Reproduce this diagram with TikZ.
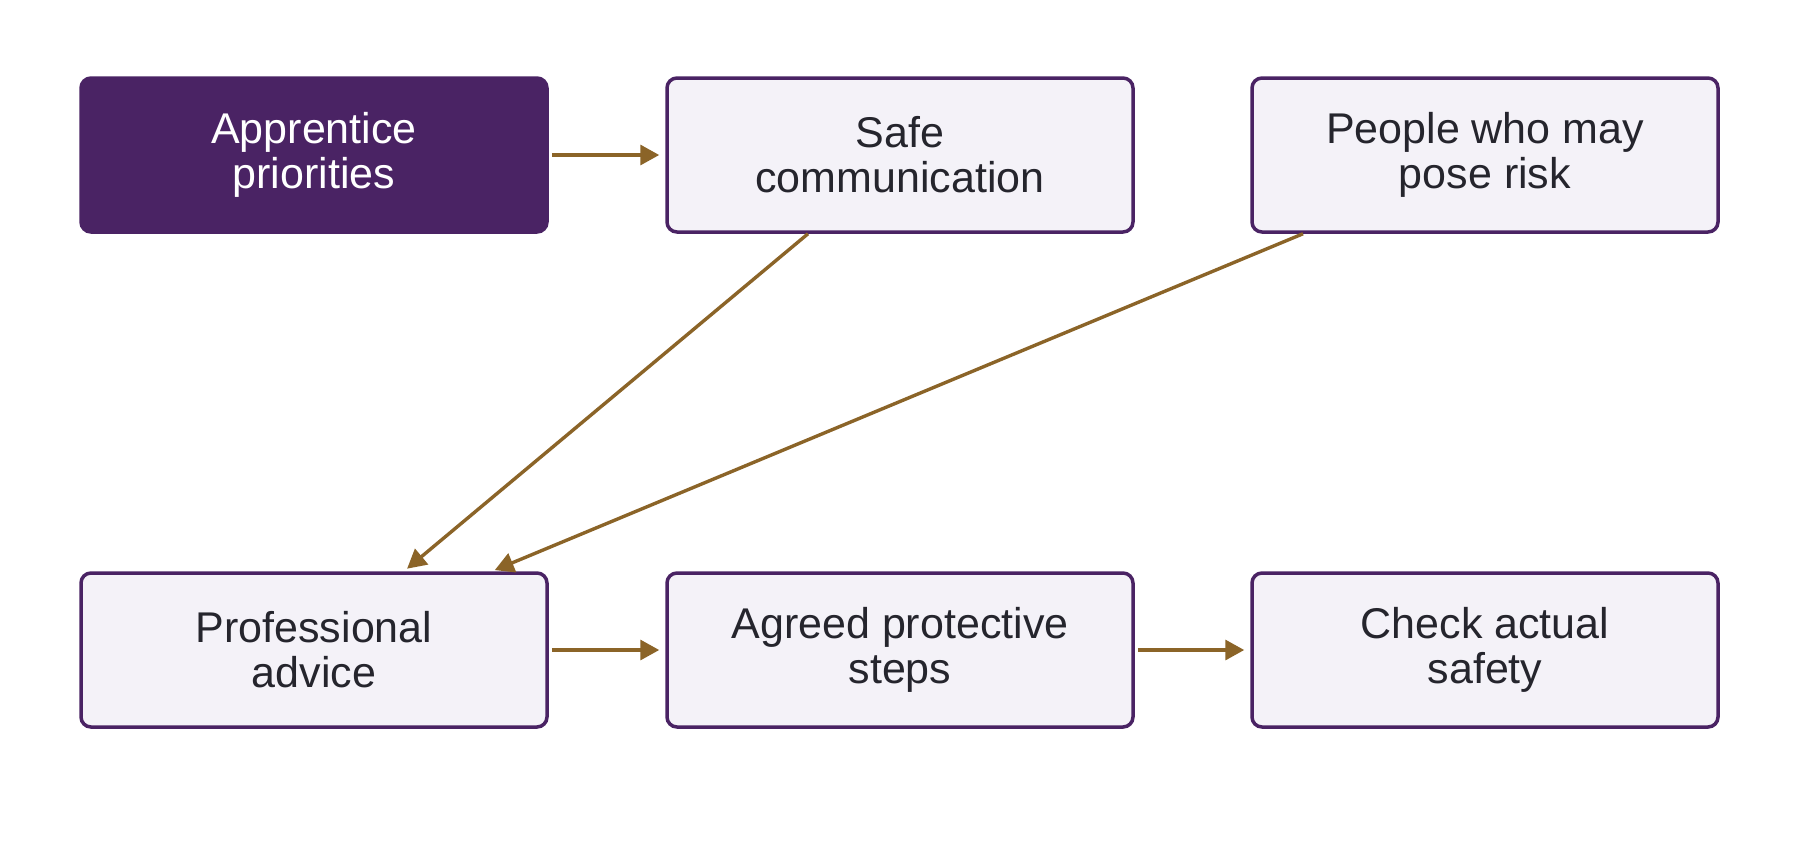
\documentclass[tikz,border=0pt]{standalone}
\usepackage{fontspec}
\setmainfont{Liberation Sans}
\usetikzlibrary{arrows.meta,calc}
\definecolor{darkpurple}{HTML}{4A2364}
\definecolor{lightfill}{HTML}{F4F2F8}
\definecolor{arrowbrown}{HTML}{8B6428}
\definecolor{textdark}{HTML}{25252D}
\tikzset{
  box/.style={rectangle, rounded corners=5pt, minimum width=233pt, minimum height=77pt,
    draw=darkpurple, line width=1.75pt, fill=lightfill, text=textdark, align=center,
    font=\fontsize{21.5pt}{22.5pt}\selectfont, inner sep=0pt},
  startbox/.style={box, fill=darkpurple, text=white},
  link/.style={draw=arrowbrown, line width=1.7pt,
    -{Triangle[length=9.5pt,width=10pt]}, shorten <=1.5pt, shorten >=3pt}
}
\begin{document}
\begin{tikzpicture}[x=0.5pt,y=-0.5pt]
\useasboundingbox (0,0) rectangle (1800,864);
\node[startbox] (A) at (314,155) {Apprentice\\priorities};
\node[box] (B) at (900,155) {Safe\\communication};
\node[box] (C) at (1485,155) {People who may\\pose risk};
\node[box] (D) at (314,650) {Professional\\advice};
\node[box] (E) at (900,650) {Agreed protective\\steps};
\node[box] (F) at (1485,650) {Check actual\\safety};
\coordinate (Bs) at ($(B.south)+(-92,0)$);
\coordinate (Cs) at ($(C.south)+(-182,0)$);
\coordinate (Dn1) at ($(D.north)+(90,0)$);
\coordinate (Dn2) at ($(D.north)+(178,0)$);
\draw[link] (A.east) -- (B.west);
\draw[link] (D.east) -- (E.west);
\draw[link] (E.east) -- (F.west);
\draw[link, shorten <=0pt, shorten >=2pt] (Bs) -- (Dn1);
\draw[link, shorten <=0pt, shorten >=1.5pt] (Cs) -- (Dn2);
\end{tikzpicture}
\end{document}
